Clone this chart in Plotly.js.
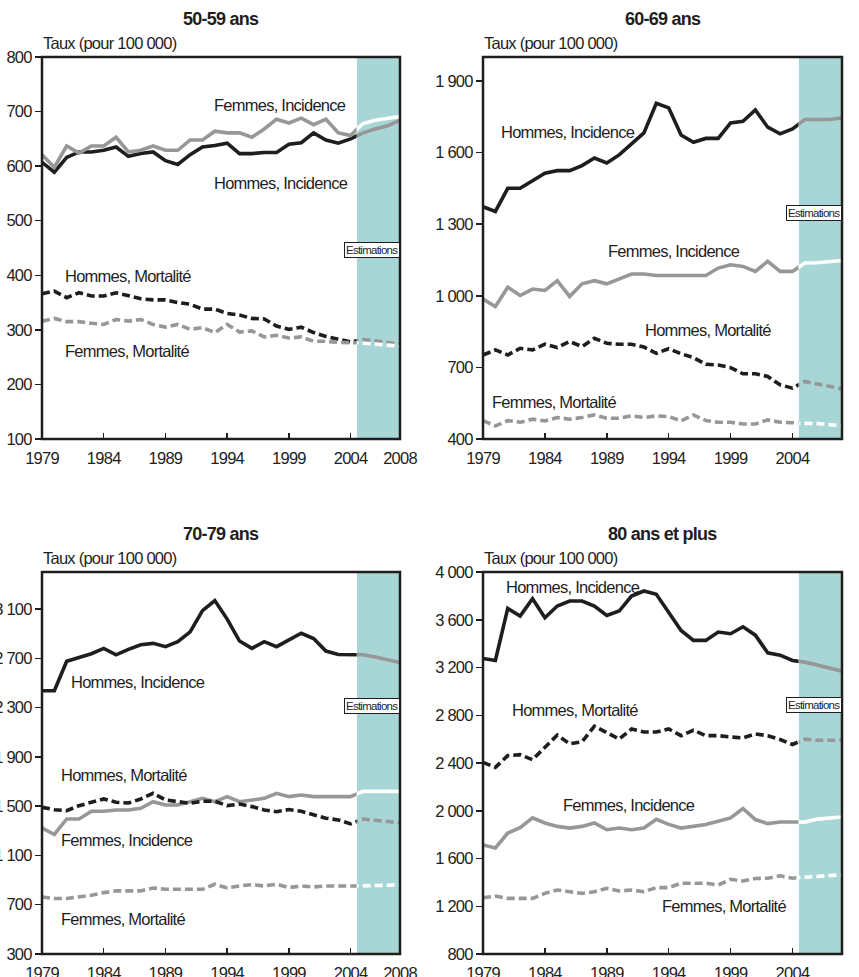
<!DOCTYPE html>
<html>
<head>
<meta charset="utf-8">
<script src="https://cdn.plot.ly/plotly-3.0.1.min.js"></script>
<style>
  html, body { margin: 0; padding: 0; background: #ffffff; }
  #chart { width: 859px; height: 977px; }
  /* tighter set to give a condensed look to every chart text */
  svg text { letter-spacing: -0.75px; }
</style>
</head>
<body>
<div id="chart"></div>
<script>
// Observed years and projected years
const years = [1979,1980,1981,1982,1983,1984,1985,1986,1987,1988,1989,1990,1991,1992,1993,1994,1995,1996,1997,1998,1999,2000,2001,2002,2003,2004];
const estYears = [2005,2006,2007,2008];
const xTicksMain = [1979,1984,1989,1994,1999,2004];
const xTicksEst = [2008];

// 50-59 ans
const a50_hommesInc = [607,589,616,626,626,629,635,618,623,626,610,603,621,635,638,642,623,623,625,625,640,643,661,648,642,650];
const a50_hommesIncEst = [661,668,674,684];
const a50_femmesInc = [621,598,637,624,637,637,653,626,629,637,629,629,648,648,664,661,661,653,668,686,679,688,676,686,661,656];
const a50_femmesIncEst = [678,684,688,691];
const a50_hommesMort = [366,371,359,368,362,362,368,363,357,355,355,350,347,338,338,330,327,321,320,307,301,305,295,288,283,278];
const a50_hommesMortEst = [282,280,277,274];
const a50_femmesMort = [316,321,315,315,312,310,319,316,319,310,305,310,301,304,295,310,296,298,287,290,285,287,279,279,277,277];
const a50_femmesMortEst = [276,274,272,270];

// 60-69 ans
const a60_hommesInc = [1373,1353,1450,1450,1482,1513,1524,1524,1545,1577,1556,1590,1636,1682,1806,1787,1673,1643,1659,1659,1724,1731,1778,1706,1678,1699];
const a60_hommesIncEst = [1738,1738,1738,1745];
const a60_femmesInc = [986,955,1036,1001,1028,1022,1063,997,1050,1063,1050,1070,1091,1091,1085,1085,1085,1085,1085,1116,1130,1123,1102,1144,1102,1102];
const a60_femmesIncEst = [1137,1138,1142,1148];
const a60_hommesMort = [752,773,752,780,773,797,783,808,787,822,801,797,797,785,759,778,757,741,713,710,699,673,673,662,627,613];
const a60_hommesMortEst = [641,630,620,610];
const a60_femmesMort = [477,455,477,470,483,476,490,483,490,501,487,487,497,490,497,494,476,501,477,470,470,463,463,480,470,466];
const a60_femmesMortEst = [466,465,460,455];

// 70-79 ans
const a70_hommesInc = [2436,2436,2676,2704,2737,2780,2728,2772,2810,2821,2794,2835,2914,3086,3168,3018,2840,2780,2835,2794,2849,2903,2860,2758,2731,2731];
const a70_hommesIncEst = [2728,2710,2685,2665];
const a70_femmesInc = [1323,1270,1396,1396,1458,1458,1469,1469,1482,1536,1509,1509,1536,1563,1536,1577,1536,1550,1563,1604,1577,1590,1577,1577,1577,1577];
const a70_femmesIncEst = [1620,1620,1620,1620];
const a70_hommesMort = [1490,1471,1463,1504,1531,1558,1531,1525,1558,1604,1550,1536,1523,1539,1539,1504,1517,1496,1469,1455,1472,1458,1428,1402,1388,1356];
const a70_hommesMortEst = [1395,1385,1375,1365];
const a70_femmesMort = [763,750,750,763,777,798,812,812,812,836,825,825,825,825,866,836,852,863,852,866,839,852,844,852,852,852];
const a70_femmesMortEst = [852,852,858,863];

// 80 ans et plus
const a80_hommesInc = [3276,3259,3695,3631,3776,3617,3715,3757,3757,3715,3636,3673,3799,3841,3813,3664,3510,3427,3427,3497,3483,3541,3471,3323,3303,3259];
const a80_hommesIncEst = [3245,3220,3195,3169];
const a80_femmesInc = [1714,1689,1813,1858,1940,1898,1869,1855,1869,1898,1841,1855,1841,1855,1929,1886,1855,1869,1884,1912,1940,2019,1926,1892,1906,1906];
const a80_femmesIncEst = [1905,1930,1942,1948];
const a80_hommesMort = [2405,2363,2462,2470,2428,2527,2634,2561,2578,2708,2657,2601,2685,2660,2660,2685,2629,2674,2629,2629,2618,2610,2643,2629,2597,2555];
const a80_hommesMortEst = [2600,2590,2590,2590];
const a80_femmesMort = [1271,1285,1266,1266,1266,1308,1336,1322,1308,1322,1350,1328,1336,1322,1356,1356,1393,1393,1393,1378,1426,1412,1432,1435,1455,1435];
const a80_femmesMortEst = [1445,1450,1458,1463];

const panelTitles = ['50-59 ans', '60-69 ans', '70-79 ans', '80 ans et plus'];
const yLabel = 'Taux (pour 100 000)';
const estLabel = 'Estimations';
const seriesNames = ['Hommes, Incidence', 'Femmes, Incidence', 'Hommes, Mortalité', 'Femmes, Mortalité'];

// ---- layout / style ----
const W = 859, H = 977;
const FONT = "'Liberation Sans', Arial, sans-serif";
const FS = 16.5;
const INK = '#1f1d1e';
const GREY = '#979797';
const TEAL = '#a8d5d5';
const SPLIT = 2004.5, X0 = 1979, X1 = 2008;

const panels = [
  { box: {l: 42, r: 400, t: 57, b: 439}, yr: [100, 800], dtick: 100,
    data: [[a50_hommesInc, a50_hommesIncEst], [a50_femmesInc, a50_femmesIncEst], [a50_hommesMort, a50_hommesMortEst], [a50_femmesMort, a50_femmesMortEst]],
    labels: [[1992.8, 569], [1992.8, 712], [1980.7, 399], [1980.7, 262]], est: 446 },
  { box: {l: 483, r: 842, t: 57, b: 439}, yr: [400, 2000], dtick: 300,
    data: [[a60_hommesInc, a60_hommesIncEst], [a60_femmesInc, a60_femmesIncEst], [a60_hommesMort, a60_hommesMortEst], [a60_femmesMort, a60_femmesMortEst]],
    labels: [[1980.3, 1687], [1988.9, 1189], [1991.9, 857], [1979.6, 556]], est: 1347 },
  { box: {l: 42, r: 400, t: 572, b: 954}, yr: [300, 3400], dtick: 400,
    data: [[a70_hommesInc, a70_hommesIncEst], [a70_femmesInc, a70_femmesIncEst], [a70_hommesMort, a70_hommesMortEst], [a70_femmesMort, a70_femmesMortEst]],
    labels: [[1981.2, 2507], [1980.4, 1225], [1980.4, 1753], [1980.4, 584]], est: 2313 },
  { box: {l: 483, r: 842, t: 572, b: 954}, yr: [800, 4000], dtick: 400,
    data: [[a80_hommesInc, a80_hommesIncEst], [a80_femmesInc, a80_femmesIncEst], [a80_hommesMort, a80_hommesMortEst], [a80_femmesMort, a80_femmesMortEst]],
    labels: [[1980.7, 3874], [1985.3, 2048], [1981.2, 2844], [1993.3, 1205]], est: 2886 }
];

// observed colour, projected colour, dash
const styles = [
  { obs: INK,  est: GREY,      dash: 'solid' },
  { obs: GREY, est: '#ffffff', dash: 'solid' },
  { obs: INK,  est: GREY,      dash: '8px,4px' },
  { obs: GREY, est: '#ffffff', dash: '8px,4px' }
];

const traces = [];
const layout = {
  width: W, height: H,
  margin: {l: 0, r: 0, t: 0, b: 0},
  paper_bgcolor: '#ffffff', plot_bgcolor: 'rgba(0,0,0,0)',
  showlegend: false,
  separators: ', ',
  font: {family: FONT, size: FS, color: INK},
  shapes: [], annotations: []
};

const sfx = n => (n === 1 ? '' : String(n));

panels.forEach((p, i) => {
  const mainN = 2 * i + 1, estN = 2 * i + 2, yN = i + 1;
  const xm = 'x' + sfx(mainN), xe = 'x' + sfx(estN), yy = 'y' + sfx(yN);
  const b = p.box;
  const pxPerYear = (b.r - b.l) / (X1 - X0);
  const splitPx = b.l + (SPLIT - X0) * pxPerYear;
  const yDom = [(H - b.b) / H, (H - b.t) / H];

  const xCommon = {
    anchor: yy, showgrid: false, zeroline: false, showline: false,
    ticks: 'inside', ticklen: 6, tickwidth: 1.5, tickcolor: INK,
    ticklabelstandoff: 7,
    tickfont: {family: FONT, size: FS, color: INK}, fixedrange: true
  };
  layout['xaxis' + sfx(mainN)] = Object.assign({}, xCommon, {
    domain: [b.l / W, splitPx / W], range: [X0, SPLIT],
    tickmode: 'array', tickvals: xTicksMain, ticktext: xTicksMain.map(String)
  });
  layout['xaxis' + sfx(estN)] = Object.assign({}, xCommon, {
    domain: [splitPx / W, b.r / W], range: [SPLIT, X1],
    tickmode: 'array', tickvals: xTicksEst, ticktext: xTicksEst.map(String)
  });
  layout['yaxis' + sfx(yN)] = {
    anchor: xm, domain: yDom, range: p.yr,
    tick0: p.yr[0], dtick: p.dtick, separatethousands: true,
    showgrid: false, zeroline: false, showline: false,
    ticks: 'outside', ticklen: 6, tickwidth: 1.5, tickcolor: INK,
    tickfont: {family: FONT, size: FS, color: INK}, fixedrange: true
  };

  // projection band
  layout.shapes.push({
    type: 'rect', layer: 'below', xref: xe, yref: yy,
    x0: SPLIT, x1: X1, y0: p.yr[0], y1: p.yr[1],
    fillcolor: TEAL, line: {width: 0}
  });
  // frame
  layout.shapes.push({
    type: 'rect', layer: 'above', xref: 'paper', yref: 'paper',
    x0: b.l / W, x1: b.r / W, y0: yDom[0], y1: yDom[1],
    line: {color: INK, width: 2.5}, fillcolor: 'rgba(0,0,0,0)'
  });

  // series: observed part clipped to the main sub-area, projection clipped to the band
  p.data.forEach((pair, k) => {
    const obs = pair[0], est = pair[1], st = styles[k];
    traces.push({
      type: 'scatter', mode: 'lines', xaxis: xm, yaxis: yy,
      x: years.concat(estYears.slice(0, 1)), y: obs.concat(est.slice(0, 1)),
      line: {color: st.obs, width: 3.6, dash: st.dash}, hoverinfo: 'skip'
    });
    traces.push({
      type: 'scatter', mode: 'lines', xaxis: xe, yaxis: yy,
      x: years.slice(-1).concat(estYears), y: obs.slice(-1).concat(est),
      line: {color: st.est, width: 3.6, dash: st.dash}, hoverinfo: 'skip'
    });
    layout.annotations.push({
      xref: xm, yref: yy, x: p.labels[k][0], y: p.labels[k][1],
      xanchor: 'left', yanchor: 'middle', showarrow: false,
      text: seriesNames[k], font: {family: FONT, size: FS, color: INK}
    });
  });

  layout.annotations.push({
    xref: xe, yref: yy, x: X1, y: p.est, xanchor: 'right', yanchor: 'middle',
    showarrow: false, text: estLabel, bgcolor: '#ffffff',
    bordercolor: INK, borderwidth: 1, borderpad: 1,
    font: {family: FONT, size: 11.5, color: INK}
  });
  layout.annotations.push({
    xref: 'paper', yref: 'paper', x: (b.l + b.r) / 2 / W, y: (H - (b.t - 38)) / H,
    xanchor: 'center', yanchor: 'middle', showarrow: false,
    text: '<b>' + panelTitles[i] + '</b>', font: {family: FONT, size: 18, color: INK}
  });
  layout.annotations.push({
    xref: 'paper', yref: 'paper', x: (b.l - 1) / W, y: (H - (b.t - 14)) / H,
    xanchor: 'left', yanchor: 'middle', showarrow: false,
    text: yLabel, font: {family: FONT, size: FS, color: INK}
  });
});

Plotly.newPlot('chart', traces, layout, {staticPlot: true, displayModeBar: false});
</script>
</body>
</html>
